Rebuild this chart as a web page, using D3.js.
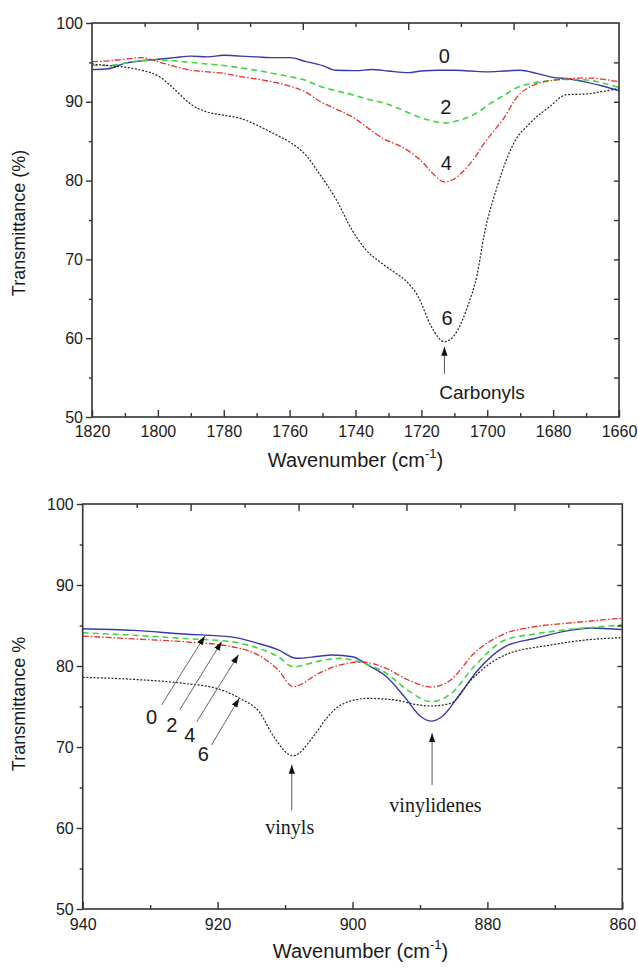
<!DOCTYPE html>
<html>
<head>
<meta charset="utf-8">
<script src="https://cdn.jsdelivr.net/npm/d3@7"></script>
<style>
  html, body { margin: 0; padding: 0; background: #fff; }
  svg text { font-family: "Liberation Sans", Arial, sans-serif; fill: #1a1a1a; }
  .serif { font-family: "Liberation Serif", "Times New Roman", serif; }
</style>
</head>
<body>
<svg id="chart" width="638" height="969"></svg>
<script>
// ---- data: [wavenumber, transmittance] ----
const seriesNames = ["0", "2", "4", "6"];

const carbonyl0 = [[1820,94.1],[1815,94.2],[1810,94.9],[1805,95.2],[1800,95.4],[1795,95.6],[1790,95.8],[1785,95.7],[1780,95.9],[1775,95.8],[1770,95.7],[1765,95.6],[1760,95.6],[1755,95.1],[1750,94.6],[1746,94.0],[1740,93.95],[1735,94.1],[1730,93.9],[1724,93.7],[1720,93.9],[1715,94.0],[1710,94.0],[1705,93.9],[1700,93.8],[1695,93.9],[1690,94.0],[1685,93.6],[1680,93.1],[1675,92.9],[1670,92.5],[1665,92.0],[1660,91.4]];
const carbonyl2 = [[1820,94.6],[1815,94.6],[1810,94.9],[1805,95.2],[1800,95.3],[1795,95.2],[1790,95.0],[1785,94.8],[1780,94.6],[1775,94.3],[1770,94.0],[1765,93.6],[1760,93.2],[1755,92.7],[1751,92.0],[1746,91.4],[1741,90.9],[1736,90.3],[1731,89.8],[1726,89.0],[1721,88.1],[1717,87.6],[1713,87.3],[1709,87.6],[1706,88.0],[1702,88.9],[1699,89.8],[1695,90.8],[1691,91.8],[1687,92.3],[1683,92.6],[1677,92.85],[1671,92.8],[1665,92.4],[1660,91.8]];
const carbonyl4 = [[1820,95.1],[1815,95.2],[1810,95.4],[1805,95.6],[1800,95.1],[1795,94.5],[1790,94.0],[1785,93.8],[1780,93.6],[1775,93.2],[1770,92.9],[1765,92.5],[1760,92.0],[1755,91.2],[1751,90.1],[1746,89.1],[1741,88.1],[1736,86.6],[1731,85.2],[1727,84.5],[1723,83.5],[1720,82.5],[1717,81.1],[1713,79.85],[1710,80.2],[1708,80.9],[1704,82.8],[1701,84.7],[1698,86.3],[1695,87.9],[1691,90.6],[1686,92.1],[1682,92.6],[1677,92.85],[1672,93.0],[1668,93.0],[1664,92.8],[1660,92.55]];
const carbonyl6 = [[1820,94.8],[1815,94.6],[1810,94.4],[1805,94.0],[1800,93.3],[1796,92.0],[1793,90.8],[1790,89.7],[1785,88.7],[1780,88.3],[1775,87.9],[1770,87.05],[1765,86.0],[1760,84.9],[1755,83.2],[1751,80.9],[1746,77.7],[1741,73.7],[1737,71.3],[1732,69.5],[1728,68.3],[1725,67.4],[1721,65.3],[1717,61.5],[1713,59.55],[1709,61.0],[1706,64.0],[1703,68.2],[1701,73.0],[1697,79.2],[1692,84.7],[1687,87.3],[1681,89.4],[1676,90.9],[1670,91.0],[1665,91.3],[1660,91.7]];

const vinyl0 = [[940,84.6],[932.5,84.4],[925,83.95],[918,83.6],[914,82.8],[911,82.0],[908.3,80.95],[905,81.2],[903,81.36],[900,81.15],[897.7,80.1],[895,78.7],[892.3,76.2],[889.8,73.7],[888.3,73.2],[886.8,73.7],[884,76.6],[881.4,79.5],[877.4,82.4],[873,83.4],[868,84.36],[864.6,84.7],[860,84.5]];
const vinyl2 = [[940,84.1],[932.5,83.8],[925,83.4],[918,83.0],[914,82.2],[911,81.15],[908.8,79.9],[905,80.6],[902,80.95],[899,80.5],[895,79.1],[891.8,77.0],[888.3,75.6],[885.4,76.6],[882,79.9],[877.4,83.2],[873,83.95],[868,84.5],[864,84.8],[860,85.06]];
const vinyl4 = [[940,83.7],[932.5,83.35],[925,83.0],[918,82.4],[914,81.36],[911,79.5],[908.8,77.45],[905,79.1],[902,80.1],[898.7,80.5],[895,79.7],[891.8,78.3],[888.3,77.4],[885.4,78.3],[882,81.55],[877.4,84.0],[873,84.85],[868,85.3],[864,85.6],[860,85.9]];
const vinyl6 = [[940,78.6],[932.5,78.35],[925,77.85],[920,77.2],[916.7,76.0],[913.7,74.2],[911.7,71.3],[908.8,68.9],[905.8,71.3],[903.8,73.6],[901.5,75.3],[897.7,76.0],[893.7,75.8],[890.3,75.2],[888.3,75.06],[885.4,75.4],[882.4,78.3],[877.4,81.36],[870.5,82.6],[865.6,83.2],[860,83.5]];

const topXTicks = [1820, 1800, 1780, 1760, 1740, 1720, 1700, 1680, 1660];
const bottomXTicks = [940, 920, 900, 880, 860];
const yTicks = [50, 60, 70, 80, 90, 100];

// annotation labels: [text, wavenumber, transmittance]
const carbonylLabels = [["0", 1713, 95.9], ["2", 1712.6, 89.4], ["4", 1712.4, 82.3], ["6", 1712.2, 62.65]];
// arrows: [fromWn, fromT, toWn, toT]
const carbonylArrow = [1713, 55.5, 1713, 58.9];
const carbonylText = ["Carbonyls", 1701.6, 53.2];

const vinylLabels = [["0", 929.8, 73.74], ["2", 926.8, 72.7], ["4", 924.1, 71.5], ["6", 922.1, 69.2]];
const vinylLabelArrows = [[928.3, 75.2, 921.9, 83.7], [925.6, 74.6, 919.4, 83.0], [923.1, 73.1, 916.9, 81.4], [920.9, 70.25, 916.8, 76.0]];
const vinylArrows = [[909.0, 62.2, 909.0, 67.8], [888.2, 65.3, 888.2, 71.7]];
const vinylTexts = [["vinyls", 909.3, 60.1], ["vinylidenes", 887.7, 62.8]];

// ---- styles ----
const styles = [
  { color: "#3838ac", dash: null, width: 1.4 },
  { color: "#3fd63f", dash: "6,4", width: 1.6 },
  { color: "#e6302b", dash: "6,2,1.5,2", width: 1.3 },
  { color: "#222", dash: "2,1.6", width: 1.2 }
];

const svg = d3.select("#chart");
const defs = svg.append("defs");
defs.append("marker")
  .attr("id", "head")
  .attr("viewBox", "0 0 10 10")
  .attr("refX", 10).attr("refY", 5)
  .attr("markerWidth", 9).attr("markerHeight", 9)
  .attr("markerUnits", "userSpaceOnUse")
  .attr("orient", "auto")
  .append("path").attr("d", "M0,1.5 L10,5 L0,8.5 Z").attr("fill", "#111");

function drawPanel(cfg) {
  const g = svg.append("g").attr("transform", `translate(${cfg.left},${cfg.top})`);
  const w = cfg.width, h = cfg.height;

  const x = d3.scaleLinear().domain(cfg.xDomain).range([0, w]);
  const y = d3.scaleLinear().domain([50, 100]).range([h, 0]);

  // curves
  const line = d3.line().x(d => x(d[0])).y(d => y(d[1])).curve(d3.curveMonotoneX);
  cfg.series.forEach((s, i) => {
    g.append("path")
      .datum(s)
      .attr("fill", "none")
      .attr("stroke", styles[i].color)
      .attr("stroke-width", styles[i].width)
      .attr("stroke-dasharray", styles[i].dash)
      .attr("d", line);
  });

  // frame
  g.append("rect")
    .attr("width", w).attr("height", h)
    .attr("fill", "none").attr("stroke", "#333").attr("stroke-width", 1.6);

  const axisStyle = sel => {
    sel.select(".domain").remove();
    sel.selectAll(".tick line").attr("stroke", "#333").attr("stroke-width", 1.4);
    sel.selectAll("text").attr("font-size", 16).attr("fill", "#1a1a1a")
      .attr("font-family", "Liberation Sans, Arial, sans-serif");
  };

  // bottom axis: ticks pointing up into the plot
  const minorX = d3.range(cfg.xDomain[0], cfg.xDomain[1] - 1, -10).filter(v => v % 20 !== 0);
  g.append("g").attr("transform", `translate(0,${h})`)
    .call(d3.axisBottom(x).tickValues(cfg.xTicks).tickSize(-7).tickPadding(cfg.xPad).tickFormat(d3.format("d")))
    .call(axisStyle);
  g.append("g").attr("transform", `translate(0,${h})`)
    .call(d3.axisBottom(x).tickValues(minorX).tickSize(-4).tickFormat(""))
    .call(axisStyle);

  // top axis: separate 10-step scale, pointing down
  const xt = d3.scaleLinear().domain([0, 10]).range([0, w]);
  g.append("g")
    .call(d3.axisTop(xt).tickValues([2, 4, 6, 8]).tickSize(-7).tickFormat(""))
    .call(axisStyle);
  g.append("g")
    .call(d3.axisTop(xt).tickValues([1, 3, 5, 7, 9]).tickSize(-4).tickFormat(""))
    .call(axisStyle);

  // left axis: outward
  g.append("g")
    .call(d3.axisLeft(y).tickValues(yTicks).tickSize(6).tickPadding(3))
    .call(axisStyle);
  g.append("g")
    .call(d3.axisLeft(y).tickValues([55, 65, 75, 85, 95]).tickSize(3).tickFormat(""))
    .call(axisStyle);

  // right axis: inward
  g.append("g").attr("transform", `translate(${w},0)`)
    .call(d3.axisRight(y).tickValues(d3.range(55, 100, 5)).tickSize(-5).tickFormat(""))
    .call(axisStyle);

  // axis titles
  const xt1 = g.append("text")
    .attr("x", w / 2 + cfg.xTitleShift).attr("y", h + cfg.xTitleY)
    .attr("text-anchor", "middle").attr("font-size", 20);
  xt1.append("tspan").text("Wavenumber (cm");
  xt1.append("tspan").attr("font-size", 13).attr("dy", -9).text("-1");
  xt1.append("tspan").attr("dy", 9).text(")");

  g.append("text")
    .attr("transform", `translate(${cfg.yTitleX},${cfg.yTitleY}) rotate(-90)`)
    .attr("text-anchor", "middle").attr("font-size", 18)
    .text(cfg.yTitle);

  return { g, x, y };
}

function arrow(g, x, y, a, color) {
  g.append("line")
    .attr("x1", x(a[0])).attr("y1", y(a[1]))
    .attr("x2", x(a[2])).attr("y2", y(a[3]))
    .attr("stroke", color).attr("stroke-width", 1)
    .attr("marker-end", "url(#head)");
}

// ---- top panel ----
const topPanel = drawPanel({
  left: 92, top: 23, width: 527, height: 394,
  xDomain: [1820, 1660], xTicks: topXTicks, xPad: 9,
  series: [carbonyl0, carbonyl2, carbonyl4, carbonyl6],
  xTitleShift: 0, xTitleY: 50,
  yTitle: "Transmittance (%)", yTitleX: -67, yTitleY: 200
});
carbonylLabels.forEach(l => {
  topPanel.g.append("text").attr("x", topPanel.x(l[1])).attr("y", topPanel.y(l[2]))
    .attr("dy", "0.36em").attr("text-anchor", "middle").attr("font-size", 20).text(l[0]);
});
arrow(topPanel.g, topPanel.x, topPanel.y, carbonylArrow, "#555");
topPanel.g.append("text").attr("x", topPanel.x(carbonylText[1])).attr("y", topPanel.y(carbonylText[2]))
  .attr("dy", "0.36em").attr("text-anchor", "middle").attr("font-size", 19).text(carbonylText[0]);

// ---- bottom panel ----
const bottomPanel = drawPanel({
  left: 82.7, top: 504, width: 539.6, height: 405,
  xDomain: [940, 860], xTicks: bottomXTicks, xPad: 10,
  series: [vinyl0, vinyl2, vinyl4, vinyl6],
  xTitleShift: 8, xTitleY: 49,
  yTitle: "Transmittance %", yTitleX: -58, yTitleY: 200
});
vinylLabels.forEach(l => {
  bottomPanel.g.append("text").attr("x", bottomPanel.x(l[1])).attr("y", bottomPanel.y(l[2]))
    .attr("dy", "0.36em").attr("text-anchor", "middle").attr("font-size", 20).text(l[0]);
});
vinylLabelArrows.forEach(a => arrow(bottomPanel.g, bottomPanel.x, bottomPanel.y, a, "#666"));
vinylArrows.forEach(a => arrow(bottomPanel.g, bottomPanel.x, bottomPanel.y, a, "#555"));
vinylTexts.forEach(t => {
  bottomPanel.g.append("text").attr("class", "serif")
    .attr("x", bottomPanel.x(t[1])).attr("y", bottomPanel.y(t[2]))
    .attr("dy", "0.33em").attr("text-anchor", "middle").attr("font-size", 20).text(t[0]);
});
</script>
</body>
</html>
